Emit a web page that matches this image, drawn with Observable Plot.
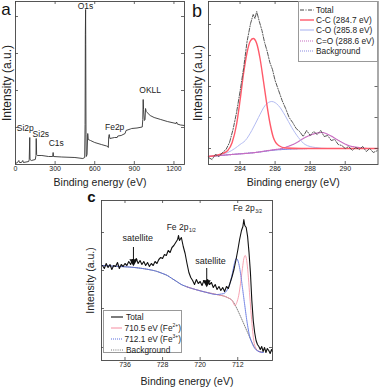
<!DOCTYPE html>
<html><head><meta charset="utf-8">
<script src="https://cdn.jsdelivr.net/npm/d3@7"></script>
<script src="https://cdn.jsdelivr.net/npm/@observablehq/plot@0.6"></script>
<style>
body{margin:0;background:#fff;font-family:"Liberation Sans",Arial,sans-serif;}
#root{position:relative;width:379px;height:387px;overflow:hidden;background:#fff;}
.panel{position:absolute;}
.legend{position:absolute;background:#fff;border:0.8px solid #999;box-sizing:border-box;font-size:8.3px;color:#222;font-family:"Liberation Sans",Arial,sans-serif;}
.legend .row{display:flex;align-items:center;white-space:nowrap;}
.legend sup{font-size:5px;vertical-align:4px;line-height:0;}
</style></head><body><div id="root"></div>
<script>
// ---------- Panel a: survey spectrum ----------
const xTicksA = [0, 300, 600, 900, 1200];
const yTicksA = [37, 74, 111, 148];
const surveyA = [
  [0,1],[15,2],[25,4],[30,2],[45,2],[55,4],[60,2],[100,3],[104,5],[108,27],[110,5],[120,4],[150,5],
  [155,9],[157,26],[160,10],[165,9],[200,9],[250,8],[282,8],[285,12],[288,8],[350,7.5],[450,7],
  [510,6],[524,7],[527,40],[529,130],[531,155],[532,120],[534,30],[536,8],[542,10],[547,31],[551,25],
  [568,24],[600,22],[650,20],[690,18.5],[700,18],[703,17],[706,28],[710,30],[715,26],[750,27],
  [770,27],[775,28.5],[800,29],[830,31],[837,34],[870,35.5],[880,36],[920,36.5],[960,37.5],
  [964,45],[967,65],[970,55],[976,44],[981,45],[985,56],[990,53],[997,52],[1020,49],[1050,47],
  [1100,45],[1150,43],[1200,41.5],[1215,41],[1220,42.5],[1225,40.5],[1250,39.5],[1280,39]
];
const peakLabelsA = [
  {label:"O1s", e:530, v:158},
  {label:"OKLL", e:1020, v:74},
  {label:"Fe2p", e:751, v:37},
  {label:"Si2p", e:74, v:36},
  {label:"Si2s", e:192, v:30},
  {label:"C1s", e:309, v:21}
];

// ---------- Panel b: C1s ----------
const xTicksB = [284, 286, 288, 290];
const yTicksB = [16, 47, 78, 109, 140];
const totalB = [
  [282.2,7],[282.4,5],[282.6,10],[282.8,8],[283.0,12],[283.2,15],[283.4,22],[283.6,35],[283.8,52],
  [284.0,73],[284.2,96],[284.4,123],[284.6,141],[284.75,150],[284.85,146],[284.95,153],[285.1,143],
  [285.25,134],[285.4,122],[285.55,113],[285.7,102],[285.85,95],[286.0,84],[286.2,74],[286.4,64],
  [286.6,56],[286.8,47],[287.0,42],[287.2,36],[287.4,33],[287.6,28],[287.8,34],[288.0,29],[288.2,33],
  [288.4,30],[288.6,34],[288.8,28],[289.0,29],[289.2,24],[289.4,25],[289.6,20],[289.8,19],[290.0,16],
  [290.2,18],[290.4,14],[290.6,17],[290.8,15],[291.0,18],[291.2,13],[291.4,16],[291.6,12],[291.85,14]
];
const ccB = [
  [282.2,8],[282.6,9],[283.0,11],[283.3,14],[283.55,22],[283.8,40],[284.0,64],[284.2,91],[284.4,112],
  [284.57,123],[284.75,126],[284.95,121],[285.14,106],[285.33,84],[285.52,61],[285.71,41],[285.9,27],
  [286.2,19],[286.6,16.5],[287.5,16],[291.85,16]
];
const coB = [
  [282.2,8],[282.8,10],[283.3,12],[283.7,16],[284.0,20],[284.3,24],[284.67,34],[285.05,47],[285.43,59],
  [285.81,63],[286.19,59],[286.57,49],[286.95,37],[287.33,27],[287.71,20],[288.29,17],[289.0,16],[291.85,16]
];
const coxB = [
  [282.2,8],[283.5,10],[284.86,12],[285.8,14.5],[286.38,16],[286.8,18.5],[287.14,21],[287.71,27],
  [288.29,31],[288.67,32],[289.14,29],[289.62,24],[290.19,19],[290.76,17],[291.3,16],[291.85,16]
];
const bgB = [[282.2,8],[283.5,10],[284.86,12],[286.0,14.5],[287,15.5],[288,16],[291.85,16]];

// ---------- Panel c: Fe2p ----------
const xTicksC = [736, 728, 720, 712];
const yTicksC = [13, 52, 90, 128];
const totalC = [
  [740.8,95],[740.4,92],[740.0,97],[739.6,93],[739.2,96],[738.8,91],[738.4,95],[738.0,94],[737.6,98],
  [737.2,92],[736.8,96],[736.4,94],[736.0,97],[735.6,95],[735.2,99],[734.8,96],[734.4,101],[734.0,98],
  [733.6,102],[733.2,97],[732.8,100],[732.4,96],[732.0,99],[731.6,95],[731.2,98],[730.8,94],[730.4,97],
  [730.0,95],[729.6,99],[729.2,97],[728.8,101],[728.4,103],[728.0,102],[727.6,106],[727.2,105],
  [726.8,110],[726.4,108],[726.0,113],[725.6,115],[725.2,118],[724.8,121],[724.6,125],[724.4,120],
  [724.0,123],[723.6,114],[723.2,107],[722.8,97],[722.4,88],[722.0,83],[721.6,80],[721.2,76],[720.8,81],
  [720.4,77],[720.0,79],[719.6,75],[719.2,80],[718.8,77],[718.4,81],[718.0,76],[717.6,78],[717.2,73],
  [716.8,76],[716.4,71],[716.0,74],[715.6,70],[715.2,73],[714.8,69],[714.4,74],[714.0,72],[713.6,78],
  [713.2,84],[712.8,91],[712.4,100],[712.0,110],[711.6,121],[711.2,130],[710.9,134],[710.7,141],
  [710.5,135],[710.2,133],[709.9,124],[709.6,108],[709.3,88],[709.0,60],[708.7,40],[708.4,28],[708.1,20],
  [707.8,16],[707.5,14],[707.2,11],[706.9,14],[706.6,9],[706.3,13],[706.0,8],[705.7,12],[705.4,10],
  [705.1,7],[704.8,11],[704.6,9]
];
const bgC = [
  [741,95],[737,94],[734,93],[731,91],[729.5,89.5],[728,87],[727,85],[726,82],[725,79],[724,76],[723,74],
  [721,71],[719,68.5],[716.5,66],[714.2,63],[713,59],[712.4,54],[711.4,44],[709.9,28],[708.5,14],
  [707.8,10],[707,8.5],[706.5,8]
];
const blueC = [
  [741,95],[737,94],[734,93],[731,91],[729.5,89.5],[728,87],[727,85],[726,82],[725,79],[724,76],[723,74],
  [721,71],[719,68.5],[716.5,66],[715,67],[714.2,71],[713.6,78],[713.1,88],[712.7,97],[712.3,102],
  [711.9,99],[711.5,90],[711.0,73],[710.5,55],[710.0,38],[709.5,25],[709,18],[708.5,13],[707.5,9],[706.5,8]
];
const pinkC = [
  [723,74],[721,71],[719,68.5],[716.5,66],[714.2,63],[713.2,60],[712.6,55],[712.2,58],[711.8,65],[711.4,77],
  [711.0,92],[710.7,102],[710.4,105],[710.1,100],[709.8,87],[709.5,68],[709.2,50],[708.9,33],[708.6,20],
  [708.2,13],[707.8,10],[707,8]
];
const satelliteC = [{e:733.3, v:122}, {e:717.8, v:99}];
const arrowsC = [{e:734.2, top:113, tip:100}, {e:718.6, top:92, tip:79}];
const peakNamesC = [{e:722.5, v:133, sub:"1/2"}, {e:708.4, v:152, sub:"3/2"}];

// ---------- helpers ----------
const FONT = "Liberation Sans, Arial, sans-serif";
const root = document.getElementById("root");
function place(el, left, top) {
  const d = document.createElement("div");
  d.className = "panel"; d.style.left = left + "px"; d.style.top = top + "px";
  d.appendChild(el); root.appendChild(d);
}
function frameMarks(xTicks, yTicks, fw, fh, fmt) {
  const c = "#444";
  return [
    Plot.ruleX(xTicks, {x: d => d, insetTop: fh - 3, stroke: c, strokeWidth: 0.8}),
    Plot.ruleX(xTicks, {x: d => d, insetBottom: fh - 3, stroke: c, strokeWidth: 0.8}),
    Plot.ruleY(yTicks, {y: d => d, insetRight: fw - 3, stroke: c, strokeWidth: 0.8}),
    Plot.ruleY(yTicks, {y: d => d, insetLeft: fw - 3, stroke: c, strokeWidth: 0.8}),
    Plot.axisX({ticks: xTicks, tickSize: 0, tickPadding: 2, label: null, tickFormat: fmt, fontSize: 7}),
    Plot.frame({stroke: c, strokeWidth: 0.9})
  ];
}
function titles(xdy, ydx, yfs, letter, ldx, ldy, lfs, lweight) {
  return [
    Plot.text(["Binding energy (eV)"], {text: d => d, frameAnchor: "bottom", textAnchor: "middle", lineAnchor: "middle", dy: xdy, fontSize: 10.5, fill: "#222"}),
    Plot.text(["Intensity (a.u.)"], {text: d => d, frameAnchor: "left", textAnchor: "middle", lineAnchor: "middle", dx: ydx, rotate: -90, fontSize: yfs, fill: "#222"}),
    Plot.text([letter], {text: d => d, frameAnchor: "top-left", textAnchor: "middle", lineAnchor: "middle", dx: ldx, dy: ldy, fontSize: lfs, fontWeight: lweight, fill: "#111"})
  ];
}
function legend(left, top, width, height, padTop, rowH, swLeft, swW, gap, rows) {
  const box = document.createElement("div");
  box.className = "legend";
  Object.assign(box.style, {left: left + "px", top: top + "px", width: width + "px", height: height + "px", paddingTop: padTop + "px"});
  for (const r of rows) {
    const row = document.createElement("div");
    row.className = "row"; row.style.height = rowH + "px";
    const svg = document.createElementNS("http://www.w3.org/2000/svg", "svg");
    svg.setAttribute("width", swW); svg.setAttribute("height", 6);
    svg.style.marginLeft = swLeft + "px"; svg.style.marginRight = gap + "px";
    const ln = document.createElementNS("http://www.w3.org/2000/svg", "line");
    ln.setAttribute("x1", 0); ln.setAttribute("x2", swW); ln.setAttribute("y1", 3); ln.setAttribute("y2", 3);
    ln.setAttribute("stroke", r.color); ln.setAttribute("stroke-width", r.width);
    if (r.dash) ln.setAttribute("stroke-dasharray", r.dash);
    svg.appendChild(ln); row.appendChild(svg);
    const t = document.createElement("span"); t.innerHTML = r.label; row.appendChild(t);
    box.appendChild(row);
  }
  root.appendChild(box);
}

// ---------- draw panel a ----------
{
  const W = 190, H = 190, ml = 15, mr = 6, mt = 1, mb = 26;
  const fw = W - ml - mr, fh = H - mt - mb;
  place(Plot.plot({
    width: W, height: H, marginLeft: ml, marginRight: mr, marginTop: mt, marginBottom: mb,
    style: {fontFamily: FONT, fontSize: "7px", color: "#222", background: "transparent", overflow: "visible"},
    x: {domain: [0, 1280]}, y: {domain: [0, 163], axis: null},
    marks: [
      Plot.line(surveyA, {x: d => d[0], y: d => d[1], stroke: "#333", strokeWidth: 0.9}),
      Plot.text(peakLabelsA, {x: "e", y: "v", text: "label", fontSize: 8.5, fill: "#222"}),
      ...frameMarks(xTicksA, yTicksA, fw, fh, "d"),
      ...titles(18.5, -8, 12, "a", -9.5, 8, 17, "normal")
    ]
  }), 0, 0);
}

// ---------- draw panel b ----------
{
  const W = 189, H = 190, ml = 18, mr = 1.5, mt = 1, mb = 26;
  const fw = W - ml - mr, fh = H - mt - mb;
  place(Plot.plot({
    width: W, height: H, marginLeft: ml, marginRight: mr, marginTop: mt, marginBottom: mb,
    style: {fontFamily: FONT, fontSize: "7px", color: "#222", background: "transparent", overflow: "visible"},
    x: {domain: [282.2, 291.87]}, y: {domain: [0, 163], axis: null},
    marks: [
      Plot.line(bgB, {x: d => d[0], y: d => d[1], stroke: "#8a8ae0", strokeWidth: 1.2, strokeDasharray: "1,1", curve: "monotone-x"}),
      Plot.line(coxB, {x: d => d[0], y: d => d[1], stroke: "#c86cc0", strokeWidth: 1.2, strokeDasharray: "1,1", curve: "monotone-x"}),
      Plot.line(coB, {x: d => d[0], y: d => d[1], stroke: "#b4bcf2", strokeWidth: 1, curve: "monotone-x"}),
      Plot.line(ccB, {x: d => d[0], y: d => d[1], stroke: "#ff5a6a", strokeWidth: 1.4, curve: "monotone-x"}),
      Plot.line(totalB, {x: d => d[0], y: d => d[1], stroke: "#444", strokeWidth: 0.9, strokeDasharray: "4,1.5,1,1.5"}),
      ...frameMarks(xTicksB, yTicksB, fw, fh, "d"),
      ...titles(18.5, -10, 12, "b", -11.5, 9.5, 18, "normal")
    ]
  }), 190, 0);
  legend(298, 1, 80, 61, 3, 10.2, 1, 14, 2, [
    {label: "Total", color: "#444", width: 1, dash: "4,1.5,1,1.5"},
    {label: "C-C (284.7 eV)", color: "#ff5a6a", width: 1.4},
    {label: "C-O (285.8 eV)", color: "#b4bcf2", width: 1.2},
    {label: "C=O (288.6 eV)", color: "#c86cc0", width: 1.2, dash: "1,1"},
    {label: "Background", color: "#8a8ae0", width: 1.2, dash: "1,1"}
  ]);
}

// ---------- draw panel c ----------
{
  const W = 200, H = 197, ml = 21, mr = 8, mt = 10, mb = 27;
  const fw = W - ml - mr, fh = H - mt - mb;
  place(Plot.plot({
    width: W, height: H, marginLeft: ml, marginRight: mr, marginTop: mt, marginBottom: mb,
    style: {fontFamily: FONT, fontSize: "7px", color: "#222", background: "transparent", overflow: "visible"},
    x: {domain: [741, 704.6]}, y: {domain: [0, 160], axis: null},
    marks: [
      Plot.line(bgC, {x: d => d[0], y: d => d[1], stroke: "#777", strokeWidth: 0.9, strokeDasharray: "1,1.2", curve: "monotone-x"}),
      Plot.line(pinkC, {x: d => d[0], y: d => d[1], stroke: "#f58ca0", strokeWidth: 0.8, curve: "monotone-x"}),
      Plot.line(blueC, {x: d => d[0], y: d => d[1], stroke: "#5a6ee0", strokeWidth: 1, strokeDasharray: "1,1", curve: "monotone-x"}),
      Plot.line(totalC, {x: d => d[0], y: d => d[1], stroke: "#111", strokeWidth: 1.1}),
      Plot.ruleX(arrowsC, {x: "e", y1: "top", y2: "tip", stroke: "#111", strokeWidth: 1}),
      Plot.dot(arrowsC, {x: "e", y: "tip", symbol: "triangle", rotate: 180, r: 3, fill: "#111", stroke: null, dy: 1}),
      Plot.text(satelliteC, {x: "e", y: "v", text: () => "satellite", fontSize: 9, fill: "#222"}),
      Plot.text(peakNamesC, {x: "e", y: "v", text: () => "Fe 2p", textAnchor: "end", fontSize: 8.5, fill: "#222"}),
      Plot.text(peakNamesC, {x: "e", y: "v", text: "sub", textAnchor: "start", dx: 0.5, dy: 2.5, fontSize: 5, fill: "#222"}),
      ...frameMarks(xTicksC, yTicksC, fw, fh, "d"),
      ...titles(21, -11, 10.5, "c", -10, -3.5, 15, "bold")
    ]
  }), 80, 190);
  legend(103, 310, 79, 43, 0, 11, 7, 12, 3, [
    {label: "Total", color: "#111", width: 1.1},
    {label: "710.5 eV (Fe<sup>2+</sup>)", color: "#f58ca0", width: 1},
    {label: "712.1 eV (Fe<sup>3+</sup>)", color: "#5a6ee0", width: 1.2, dash: "1,1"},
    {label: "Background", color: "#777", width: 1, dash: "1,1.2"}
  ]);
}
</script></body></html>
